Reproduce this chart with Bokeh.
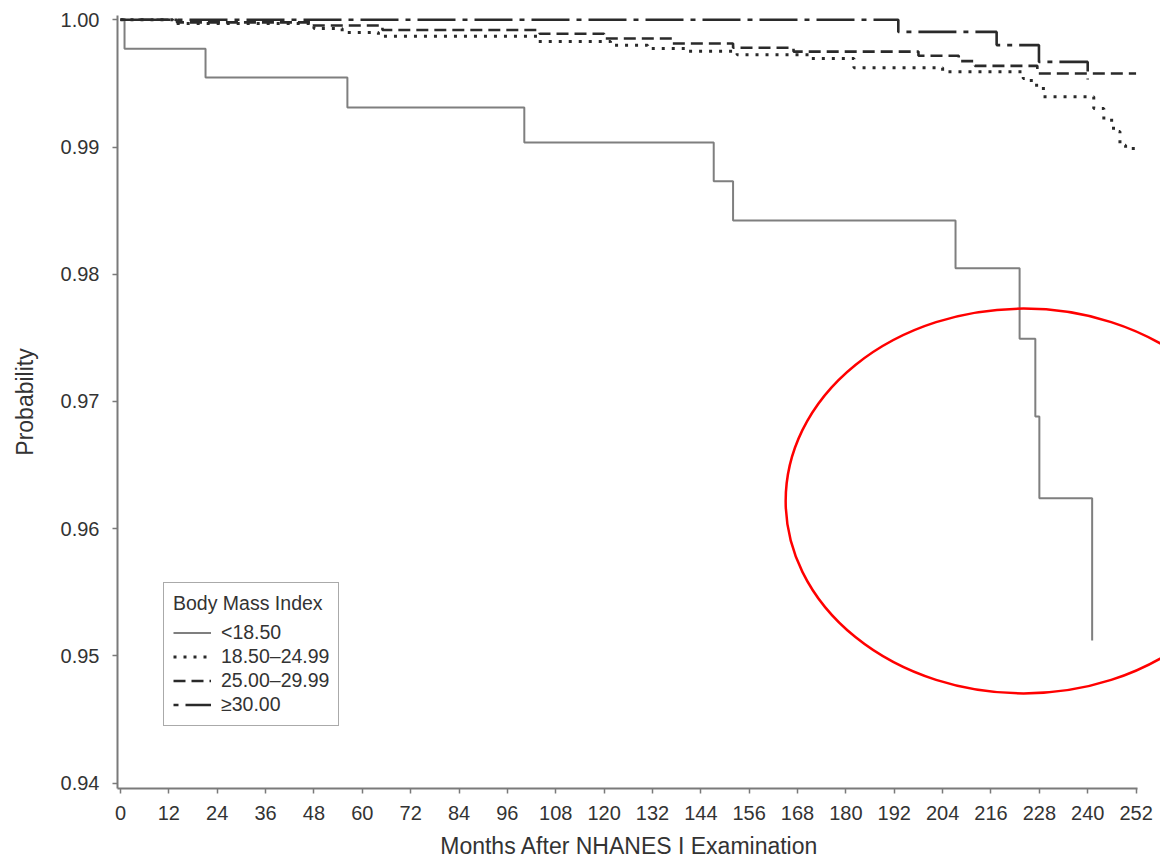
from bokeh.plotting import figure
from bokeh.models import Legend, LegendItem, FixedTicker, PrintfTickFormatter, Range1d
from bokeh.embed import file_html
from bokeh.resources import INLINE

# ---------------- data ----------------
x_ticks = [0, 12, 24, 36, 48, 60, 72, 84, 96, 108, 120, 132, 144, 156, 168,
           180, 192, 204, 216, 228, 240, 252]
y_ticks = [0.94, 0.95, 0.96, 0.97, 0.98, 0.99, 1.00]

# BMI < 18.50 (solid)
months_lt1850 = [0, 1.0, 21.1, 56.3, 100.2, 147.2, 152.0, 207.2, 223.1, 227.0, 228.0, 241.1]
surv_lt1850 = [1.0, 0.99772, 0.99546, 0.99310, 0.99036, 0.98731, 0.98422, 0.98047,
               0.97492, 0.96881, 0.96239, 0.95120]

# BMI 18.50-24.99 (dotted)
months_1850 = [0, 13, 48, 55, 64, 103.5, 121.6, 130.8, 140.7, 153, 171, 182, 204, 224,
               226, 229, 241.5, 244, 246.4, 248, 249.4, 252]
surv_1850 = [1.0, 0.9997, 0.99932, 0.99900, 0.99870, 0.99829, 0.99800, 0.99774, 0.99753,
             0.99725, 0.99696, 0.99623, 0.99591, 0.99538, 0.99486, 0.99395, 0.99303,
             0.99211, 0.99122, 0.99014, 0.98988, 0.98988]

# BMI 25.00-29.99 (dashed)
months_2500 = [0, 14, 48, 65, 104, 120, 137, 152, 167, 198, 208, 212, 227.5, 252]
surv_2500 = [1.0, 0.9998, 0.99955, 0.99920, 0.99890, 0.99853, 0.99814, 0.99780, 0.99750,
             0.99717, 0.99675, 0.99638, 0.99578, 0.99578]

# BMI >= 30.00 (dash-dot)
months_3000 = [0, 193, 217.4, 227.9, 240]
surv_3000 = [1.0, 0.99905, 0.99801, 0.99669, 0.99530]

series_labels = ["<18.50", "18.50\u201324.99", "25.00\u201329.99", "\u226530.00"]
x_title = "Months After NHANES I Examination"
y_title = "Probability"
legend_title = "Body Mass Index"

# red highlight ellipse (annotation)
ell_x, ell_y, ell_w, ell_h = 224.1, 0.96217, 118.1, 0.03027

# ---------------- figure ----------------
X_START, X_END = -0.744, 258.06
Y_START, Y_END = 0.939568, 1.000338

FONT = "Liberation Sans"
TXT = "#333333"
AX = "#7a7a7a"

p = figure(width=1160, height=861, output_backend="svg", toolbar_location=None,
           x_range=Range1d(X_START, X_END), y_range=Range1d(Y_START, Y_END),
           min_border_left=117, min_border_right=0, min_border_top=15,
           min_border_bottom=73)
p.outline_line_color = None
p.grid.visible = False
p.background_fill_color = "white"

r1 = p.step(months_lt1850, surv_lt1850, mode="after", line_color="#7f7f7f", line_width=2)
r2 = p.step(months_1850, surv_1850, mode="after", line_color="#2a2a2a", line_width=3,
            line_dash="3 7")
r3 = p.step(months_2500, surv_2500, mode="after", line_color="#2a2a2a", line_width=2.6,
            line_dash="12 6")
r4 = p.step(months_3000, surv_3000, mode="after", line_color="#2a2a2a", line_width=2.6,
            line_dash="5 7 38 7")

p.ellipse(x=[ell_x], y=[ell_y], width=ell_w, height=ell_h, fill_color=None,
          line_color="#ff0000", line_width=2.5)

# axes
p.xaxis.ticker = FixedTicker(ticks=x_ticks)
p.yaxis.ticker = FixedTicker(ticks=y_ticks)
p.yaxis.formatter = PrintfTickFormatter(format="%.2f")
p.xaxis.bounds = (X_START, 252.3)
p.yaxis.bounds = (Y_START, Y_END)
# trailing no-break spaces shift the centred title left, under the drawn axis line
p.xaxis.axis_label = x_title + "\u00a0\u00a0\u00a0"
p.yaxis.axis_label = y_title
for ax in (p.xaxis, p.yaxis):
    ax.axis_line_color = AX
    ax.axis_line_width = 2
    ax.major_tick_line_color = AX
    ax.major_tick_line_width = 1.5
    ax.major_tick_out = 5
    ax.major_tick_in = 0
    ax.minor_tick_line_color = None
    ax.major_label_text_font = FONT
    ax.major_label_text_font_size = "20px"
    ax.major_label_text_color = TXT
    ax.axis_label_text_font = FONT
    ax.axis_label_text_font_size = "23px"
    ax.axis_label_text_font_style = "normal"
    ax.axis_label_text_color = TXT
p.xaxis.major_label_standoff = 12
p.yaxis.major_label_standoff = 13
p.xaxis.axis_label_standoff = 10
p.yaxis.axis_label_standoff = 20

legend = Legend(
    items=[LegendItem(label=series_labels[0], renderers=[r1]),
           LegendItem(label=series_labels[1], renderers=[r2]),
           LegendItem(label=series_labels[2], renderers=[r3]),
           LegendItem(label=series_labels[3], renderers=[r4])],
    location=(46, 62), title=legend_title,
    border_line_color="#555555", border_line_width=1.5,
    background_fill_color="white", background_fill_alpha=1.0,
    padding=9, spacing=1, margin=0,
    glyph_width=38, glyph_height=21, label_height=21, label_standoff=10,
    label_text_font=FONT, label_text_font_size="19.5px", label_text_color=TXT,
    title_text_font=FONT, title_text_font_size="19.5px", title_text_color=TXT,
    title_text_font_style="normal", title_standoff=6,
)
p.add_layout(legend)

open("out.html", "w").write(file_html(p, INLINE))
